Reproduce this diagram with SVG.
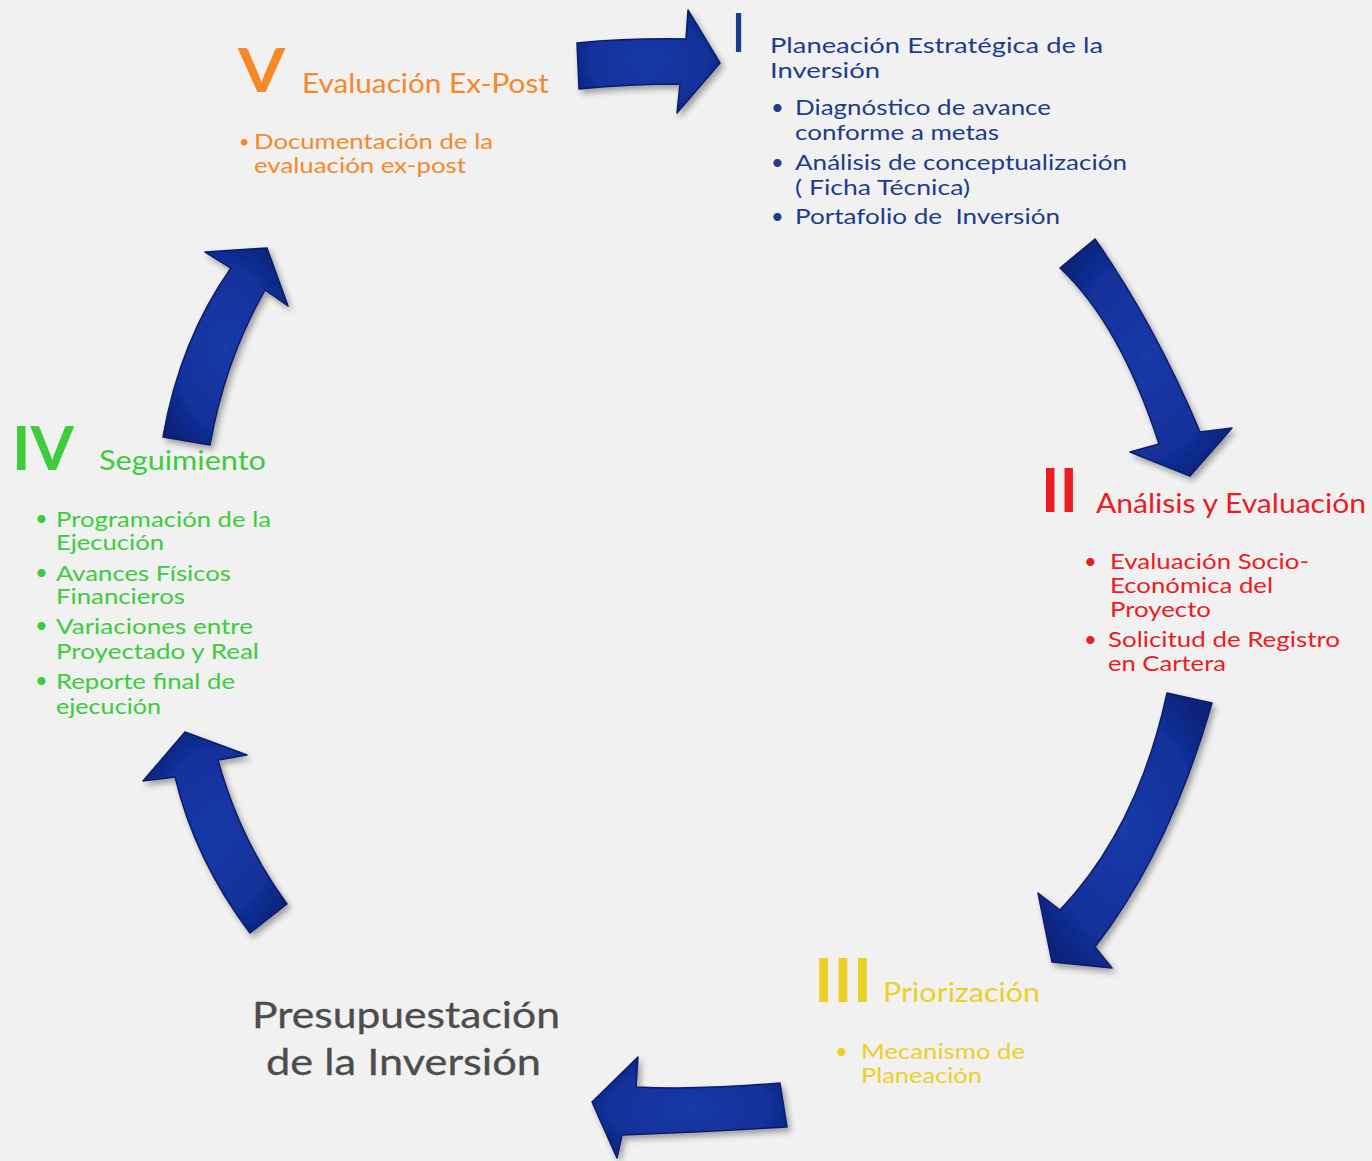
<svg xmlns="http://www.w3.org/2000/svg" width="1372" height="1161" viewBox="0 0 1372 1161">
<defs>
<filter id="shadow" x="-20%" y="-20%" width="140%" height="140%">
<feGaussianBlur in="SourceAlpha" stdDeviation="3"/>
<feOffset dx="3" dy="4" result="b"/>
<feComponentTransfer><feFuncA type="linear" slope="0.35"/></feComponentTransfer>
<feMerge><feMergeNode/><feMergeNode in="SourceGraphic"/></feMerge>
</filter>
<radialGradient id="blue" cx="50%" cy="50%" r="60%">
<stop offset="0" stop-color="#1a3aa8"/>
<stop offset="0.7" stop-color="#12309a"/>
<stop offset="1" stop-color="#0b2378"/>
</radialGradient>
</defs>
<style>
.arrow{fill:url(#blue);stroke:#0a1d6a;stroke-width:1.5;stroke-linejoin:round;filter:url(#shadow)}
text{font-family:Lato,"Open Sans","Liberation Sans",sans-serif;white-space:pre}
.t{font-size:22px}
.h{font-size:26px}
.num{font-weight:bold;font-size:62px}
.navy{fill:#1f3c8c}
.orange{fill:#f5892a}
.red{fill:#ec1c24}
.yellow{fill:#ecd02a}
.green{fill:#3ccc3c}
</style>
<rect width="1372" height="1161" fill="#f1f1f1"/>
<g id="connectors">
<path class="arrow" d="M577,43 Q630,38 686,39 L688,10 L720,63 L677,113 L680,84 Q630,84 579,89 Z"/>
<path class="arrow" d="M1060,268 L1095,239 Q1155,325 1200,432 L1232,428 L1190,476 L1130,452 L1159,444 Q1120,324 1060,268 Z"/>
<path class="arrow" d="M1167,693 L1212,703 Q1170,850 1095,947 L1112,968 L1052,962 L1038,893 L1060,910 Q1138,828 1167,693 Z"/>
<path class="arrow" d="M787,1127 L780,1083 Q700,1090 636,1087 L638,1057 L592,1102 L617,1158 L622,1135 Q700,1132 787,1127 Z"/>
<path class="arrow" d="M250,933 L287,904 Q240,840 218,760 L247,755 L185,732 L143,781 L175,777 Q195,860 250,933 Z"/>
<path class="arrow" d="M163,437 L210,445 Q225,360 265,290 L288,306 L267,248 L205,252 L231,268 Q180,340 163,437 Z"/>
</g>
<g id="node-I" class="navy">
<text x="731" y="52" font-size="54">I</text>
<text class="t" x="770" y="53" textLength="333" lengthAdjust="spacingAndGlyphs">Planeación Estratégica de la</text>
<text class="t" x="770" y="78" textLength="110" lengthAdjust="spacingAndGlyphs">Inversión</text>
<text class="t" x="771" y="115">•</text>
<text class="t" x="795" y="115" textLength="256" lengthAdjust="spacingAndGlyphs">Diagnóstico de avance</text>
<text class="t" x="795" y="140" textLength="204" lengthAdjust="spacingAndGlyphs">conforme a metas</text>
<text class="t" x="771" y="170">•</text>
<text class="t" x="795" y="170" textLength="332" lengthAdjust="spacingAndGlyphs">Análisis de conceptualización</text>
<text class="t" x="795" y="195" textLength="175" lengthAdjust="spacingAndGlyphs">( Ficha Técnica)</text>
<text class="t" x="771" y="224">•</text>
<text class="t" x="795" y="224" textLength="265" lengthAdjust="spacingAndGlyphs">Portafolio de  Inversión</text>
</g>
<g id="node-II" class="red">
<text class="num" x="1041" y="512" textLength="37" lengthAdjust="spacingAndGlyphs">II</text>
<text class="h" x="1096" y="513" textLength="270" lengthAdjust="spacingAndGlyphs">Análisis y Evaluación</text>
<text class="t" x="1084" y="569">•</text>
<text class="t" x="1110" y="569" textLength="199" lengthAdjust="spacingAndGlyphs">Evaluación Socio-</text>
<text class="t" x="1110" y="593" textLength="163" lengthAdjust="spacingAndGlyphs">Económica del</text>
<text class="t" x="1110" y="617" textLength="101" lengthAdjust="spacingAndGlyphs">Proyecto</text>
<text class="t" x="1084" y="647">•</text>
<text class="t" x="1108" y="647" textLength="232" lengthAdjust="spacingAndGlyphs">Solicitud de Registro</text>
<text class="t" x="1108" y="671" textLength="118" lengthAdjust="spacingAndGlyphs">en Cartera</text>
</g>
<g id="node-III" class="yellow">
<text class="num" x="814" y="1002" textLength="58" lengthAdjust="spacingAndGlyphs">III</text>
<text class="h" x="883" y="1002" textLength="157" lengthAdjust="spacingAndGlyphs">Priorización</text>
<text class="t" x="835" y="1059">•</text>
<text class="t" x="861" y="1059" textLength="164" lengthAdjust="spacingAndGlyphs">Mecanismo de</text>
<text class="t" x="861" y="1083" textLength="121" lengthAdjust="spacingAndGlyphs">Planeación</text>
</g>
<g id="node-IV" class="green">
<text class="num" x="12" y="470" textLength="62" lengthAdjust="spacingAndGlyphs">IV</text>
<text class="h" x="99" y="470" textLength="167" lengthAdjust="spacingAndGlyphs">Seguimiento</text>
<text class="t" x="35" y="526">•</text>
<text class="t" x="56" y="527" textLength="215" lengthAdjust="spacingAndGlyphs">Programación de la</text>
<text class="t" x="56" y="550" textLength="108" lengthAdjust="spacingAndGlyphs">Ejecución</text>
<text class="t" x="35" y="580">•</text>
<text class="t" x="56" y="581" textLength="175" lengthAdjust="spacingAndGlyphs">Avances Físicos</text>
<text class="t" x="56" y="604" textLength="129" lengthAdjust="spacingAndGlyphs">Financieros</text>
<text class="t" x="35" y="633">•</text>
<text class="t" x="56" y="634" textLength="197" lengthAdjust="spacingAndGlyphs">Variaciones entre</text>
<text class="t" x="56" y="659" textLength="203" lengthAdjust="spacingAndGlyphs">Proyectado y Real</text>
<text class="t" x="35" y="688">•</text>
<text class="t" x="56" y="689" textLength="179" lengthAdjust="spacingAndGlyphs">Reporte final de</text>
<text class="t" x="56" y="714" textLength="105" lengthAdjust="spacingAndGlyphs">ejecución</text>
</g>
<g id="node-V" class="orange">
<text class="num" x="238" y="92" textLength="47" lengthAdjust="spacingAndGlyphs">V</text>
<text class="h" x="302" y="93" textLength="247" lengthAdjust="spacingAndGlyphs">Evaluación Ex-Post</text>
<text x="239" y="148" font-size="18">•</text>
<text class="t" x="254" y="149" textLength="239" lengthAdjust="spacingAndGlyphs">Documentación de la</text>
<text class="t" x="254" y="173" textLength="212" lengthAdjust="spacingAndGlyphs">evaluación ex-post</text>
</g>
<g id="node-presupuestacion" fill="#4d4d4d" stroke="#4d4d4d" stroke-width="0.3">
<text x="252" y="1028" font-size="37" textLength="308" lengthAdjust="spacingAndGlyphs">Presupuestación</text>
<text x="266" y="1075" font-size="37" textLength="275" lengthAdjust="spacingAndGlyphs">de la Inversión</text>
</g>
</svg>
